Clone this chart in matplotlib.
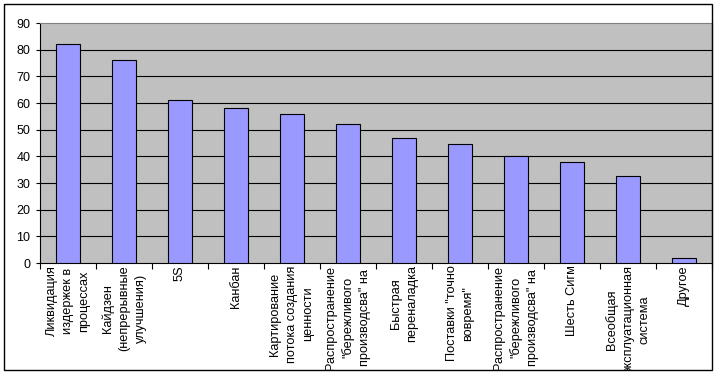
import numpy as np
import matplotlib
matplotlib.use("Agg")
import matplotlib.pyplot as plt
from matplotlib.patches import Rectangle
from matplotlib.transforms import Bbox, TransformedBbox, blended_transform_factory

# Data
categories = [
    "Ликвидация\nиздержек в\nпроцессах",
    "Кайдзен\n(непрерывные\nулучшения)",
    "5S",
    "Канбан",
    "Картирование\nпотока создания\nценности",
    "Распространение\n\"бережливого\nпроизводсва\" на",
    "Быстрая\nпереналадка",
    "Поставки \"точно\nвовремя\"",
    "Распространение\n\"бережливого\nпроизводсва\" на",
    "Шесть Сигм",
    "Всеобщая\nэксплуатационная\nсистема",
    "Другое",
]
values = [82, 76, 61, 58, 56, 52, 47, 44.5, 40, 38, 32.5, 2]
y_ticks = list(range(0, 100, 10))

W, H = 718, 376
plt.rcParams["font.family"] = ["Liberation Sans", "DejaVu Sans"]

fig = plt.figure(figsize=(W / 100, H / 100), dpi=100)
fig.patch.set_facecolor("white")

# plot area in pixel coords: left 40, right 712, top 23, bottom 263
ax = fig.add_axes([40 / W, 1 - 263 / H, (712 - 40) / W, (263 - 23) / H])
ax.set_facecolor("#c0c0c0")

x = np.arange(len(values))
ax.bar(x, values, width=0.43, color="#9999ff", edgecolor="black",
       linewidth=0.8, zorder=3)

ax.set_xlim(-0.5, len(values) - 0.5)
ax.set_ylim(0, 90)
ax.set_yticks(y_ticks)
ax.tick_params(axis="y", labelsize=9, length=3, width=0.8, pad=4,
               direction="out")

# horizontal gridlines
for v in y_ticks[1:-1]:
    ax.axhline(v, color="black", linewidth=0.8, zorder=1)

# category boundary ticks on x axis
ax.set_xticks(np.arange(-0.5, len(values), 1.0))
ax.set_xticklabels([])
ax.tick_params(axis="x", length=4, width=0.8, direction="out")

for side in ["left", "bottom", "right"]:
    ax.spines[side].set_color("black")
    ax.spines[side].set_linewidth(0.8)
ax.spines["top"].set_color("#808080")
ax.spines["top"].set_linewidth(0.8)

# category labels, clipped at the outer chart border
clip = TransformedBbox(Bbox([[4 / W, 1 - 370 / H], [712 / W, 1 - 4 / H]]),
                       fig.transFigure)
trans = blended_transform_factory(ax.transData, ax.transAxes)
for i, lab in enumerate(categories):
    t = ax.text(i, -0.01, lab, rotation=90, ha="center", va="top",
                multialignment="center", fontsize=9.2, transform=trans,
                linespacing=1.5)
    t.set_clip_on(True)
    t.set_clip_box(clip)

# outer chart border
fig.patches.append(Rectangle((4 / W, 1 - 370 / H), (712 - 4) / W,
                             (370 - 4) / H, transform=fig.transFigure,
                             fill=False, edgecolor="black", linewidth=1))

fig.savefig("out.png", dpi=100, facecolor="white")
